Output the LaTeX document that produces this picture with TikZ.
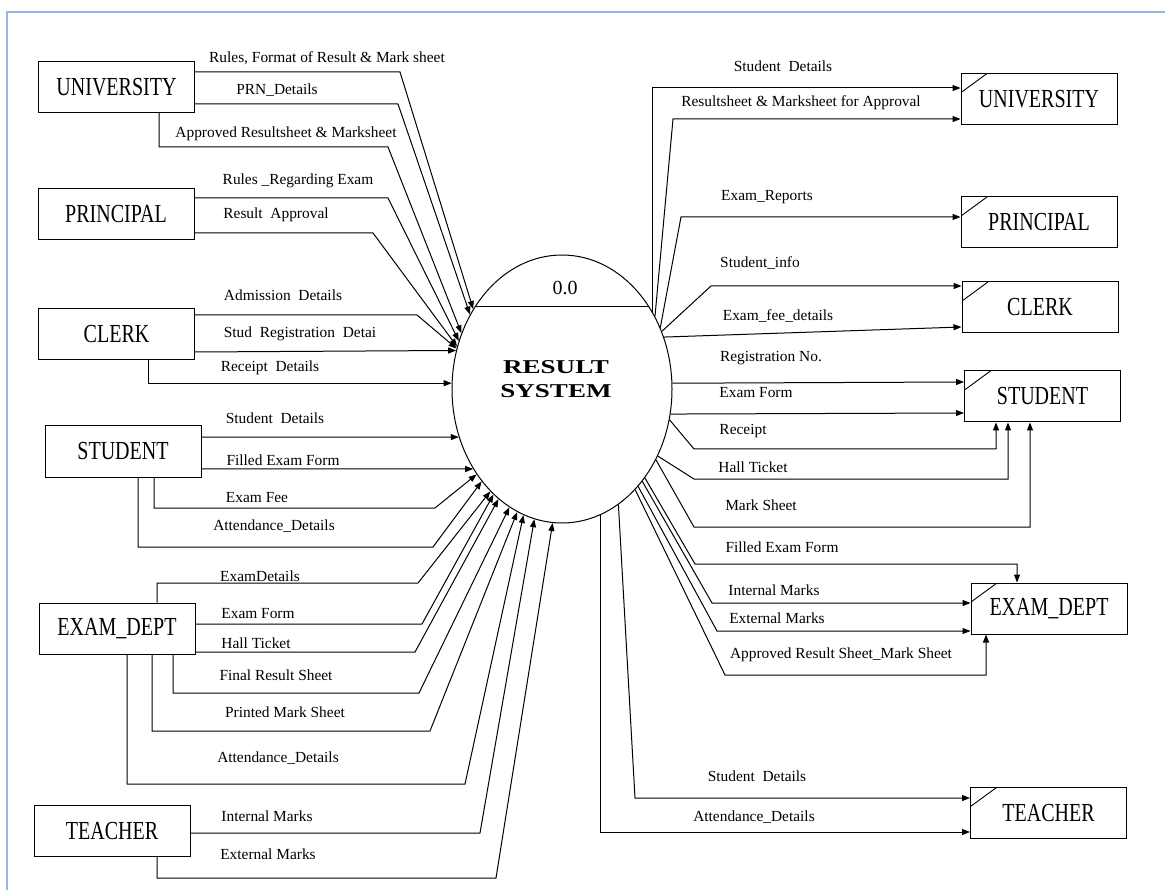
\documentclass[tikz,border=0pt]{standalone}
\usepackage{fontspec}
\setmainfont{Liberation Serif}
\usetikzlibrary{arrows.meta,shapes.geometric}
\newcommand\myent[1]{\scalebox{0.77}[1]{\fontsize{26}{26}\selectfont #1}}
\newcommand\mytitle[1]{\scalebox{1.38}[1]{\bfseries\fontsize{19.6}{20}\selectfont #1}}
\definecolor{frameblue}{RGB}{150,180,230}
\begin{document}
\begin{tikzpicture}[x=1pt,y=-1pt,
  ent/.style={draw, line width=1pt, minimum width=156pt, minimum height=51pt, inner sep=0pt},
  entdup/.style={ent, path picture={\draw[line width=0.9pt] ([yshift=-19pt]path picture bounding box.north west) -- ([xshift=26pt]path picture bounding box.north west);}},
  flow/.style={draw, line width=1pt, -{Triangle[length=8pt,width=6pt]}},
  plain/.style={draw, line width=1pt},
  lbl/.style={font=\fontsize{15.4}{16}\selectfont, inner sep=0pt, text height=10pt, text depth=0pt},
]
\useasboundingbox (0,0) rectangle (1165,890);
\fill[white] (0,0) rectangle (1165,890);
\draw[frameblue, line width=2pt] (7,890) -- (7,12) -- (1165,12);

% central process
\node[draw, ellipse, line width=1pt, minimum width=220pt, minimum height=268pt, inner sep=0pt] (sys) at (562,389) {};
\draw[plain] ([shift={(-87,-82)}]sys.center) -- ([shift={(87,-82)}]sys.center);
\node[inner sep=0pt, font=\fontsize{20}{20}\selectfont] (num) at (565,288) {0.0};
\node[inner sep=0pt, align=center, font=\fontsize{19.6}{24}\selectfont] (title) at (556,379) {\mytitle{RESULT}\\\mytitle{SYSTEM}};

% left entities
\node[ent] (uniL) at (116.5,87) {\myent{UNIVERSITY}};
\node[ent] (prinL) at (116,214.5) {\myent{PRINCIPAL}};
\node[ent] (clerkL) at (116.5,334) {\myent{CLERK}};
\node[ent] (studL) at (123,451.5) {\myent{STUDENT}};
\node[ent] (examL) at (117,628.5) {\myent{EXAM\_DEPT}};
\node[ent] (teachL) at (112,831) {\myent{TEACHER}};

% right entities
\node[entdup] (uniR) at (1039,99) {\myent{UNIVERSITY}};
\node[entdup] (prinR) at (1039,222.5) {\myent{PRINCIPAL}};
\node[entdup] (clerkR) at (1040,307.5) {\myent{CLERK}};
\node[entdup] (studR) at (1042.5,396.5) {\myent{STUDENT}};
\node[entdup] (examR) at (1049,608.5) {\myent{EXAM\_DEPT}};
\node[entdup] (teachR) at (1048.5,813) {\myent{TEACHER}};

% left flows
\draw[flow] (uniL.east |- 0,72) -- (400,72) -- (sys.138.6);
\draw[flow] (uniL.east |- 0,104) -- (398,104) -- (sys.141.8);
\draw[flow] (uniL.south -| 159,0) |- (388,147) -- (sys.151.5);
\draw[flow] (prinL.east |- 0,198) -- (388,198) -- (sys.155.6);
\draw[flow] (prinL.east |- 0,233) -- (373,233) -- (sys.158.3);
\draw[flow] (clerkL.east |- 0,315) -- (417,315) -- (sys.159.8);
\draw[flow] (clerkL.east |- 0,352) -- (sys.160.7);
\draw[flow] (clerkL.south -| 148,0) |- (sys.177.4);
\draw[flow] (studL.east |- 0,437) -- (sys.205.05);
\draw[flow] (studL.east |- 0,469) -- (sys.222.4);
\draw[flow] (studL.south -| 154,0) |- (435,508) -- (sys.225.3);
\draw[flow] (studL.south -| 138,0) |- (433,547) -- (sys.229.9);
\draw[flow] (examL.north -| 157,0) |- (418,583) -- (sys.235.6);
\draw[flow] (examL.east |- 0,624) -- (422,624) -- (sys.237.9);
\draw[flow] (examL.east |- 0,652) -- (415,652) -- (sys.240);
\draw[flow] (examL.south -| 173,0) |- (419,693) -- (sys.246.2);
\draw[flow] (examL.south -| 152,0) |- (430,731) -- (sys.250.2);
\draw[flow] (examL.south -| 127,0) |- (465,784) -- (sys.253.7);
\draw[flow] (teachL.east |- 0,833) -- (480,833) -- (sys.258.9);
\draw[flow] (teachL.south -| 157,0) |- (496,878) -- (sys.266.4);

% right flows
\draw[flow] (sys.40) |- (uniR.west |- 0,88);
\draw[flow] (sys.38) -- (673,119) -- (uniR.west |- 0,119);
\draw[flow] (sys.32.5) -- (681,217) -- (prinR.west |- 0,217);
\draw[flow] (sys.30.3) -- (711,286) -- (clerkR.west |- 0,286);
\draw[flow] (sys.27.7) -- (clerkR.west |- 0,327);
\draw[flow] (sys.3.65) -- (studR.west |- 0,382);
\draw[flow] (sys.347.5) -- (studR.west |- 0,413);
\draw[flow] (sys.344.9) -- (694,449) -| (studR.south -| 996,0);
\draw[flow] (sys.325.4) -- (694,479) -| (studR.south -| 1008,0);
\draw[flow] (sys.323.3) -- (694,527) -| (studR.south -| 1030,0);
\draw[flow] (sys.313.3) -- (695,564) -| (examR.north -| 1017,0);
\draw[flow] (sys.311) -- (712,603) -- (examR.west |- 0,603);
\draw[flow] (sys.308.7) -- (717,631) -- (examR.west |- 0,631);
\draw[flow] (sys.306.2) -- (725,675) -| (examR.south -| 986,0);
\draw[flow] (sys.296.9) -- (635,798) -- (teachR.west |- 0,798);
\draw[flow] (sys.287.3) |- (teachR.west |- 0,832);

% left labels
\node[lbl] (l1) at (327,58) {Rules, Format of Result \& Mark sheet};
\node[lbl] (l2) at (277,90) {PRN\_Details};
\node[lbl] (l3) at (286,133) {Approved Resultsheet \& Marksheet};
\node[lbl] (l4) at (298,180) {Rules \_Regarding Exam};
\node[lbl] (l5) at (276,214) {Result~ Approval};
\node[lbl] (l6) at (283,296) {Admission~ Details};
\node[lbl] (l7) at (300,333) {Stud~ Registration~ Detai};
\node[lbl] (l8) at (270,367) {Receipt~ Details};
\node[lbl] (l9) at (275,419) {Student~ Details};
\node[lbl] (l10) at (283,460) {Filled Exam Form};
\node[lbl] (l11) at (257,497) {Exam Fee};
\node[lbl] (l12) at (274,525) {Attendance\_Details};
\node[lbl] (l13) at (260,576) {ExamDetails};
\node[lbl] (l14) at (258,613) {Exam Form};
\node[lbl] (l15) at (256,643) {Hall Ticket};
\node[lbl] (l16) at (276,675) {Final Result Sheet};
\node[lbl] (l17) at (285,712) {Printed Mark Sheet};
\node[lbl] (l18) at (278,757) {Attendance\_Details};
\node[lbl] (l19) at (267,816) {Internal Marks};
\node[lbl] (l20) at (268,854) {External Marks};

% right labels
\node[lbl] (r1) at (783,67) {Student~ Details};
\node[lbl] (r2) at (801,102) {Resultsheet \& Marksheet for Approval};
\node[lbl] (r3) at (767,196) {Exam\_Reports};
\node[lbl] (r4) at (760,263) {Student\_info};
\node[lbl] (r5) at (778,316) {Exam\_fee\_details};
\node[lbl] (r6) at (771,357) {Registration No.};
\node[lbl] (r7) at (756,393) {Exam Form};
\node[lbl] (r8) at (743,430) {Receipt};
\node[lbl] (r9) at (753,467) {Hall Ticket};
\node[lbl] (r10) at (761,505) {Mark Sheet};
\node[lbl] (r11) at (782,547) {Filled Exam Form};
\node[lbl] (r12) at (774,590) {Internal Marks};
\node[lbl] (r13) at (777,618) {External Marks};
\node[lbl] (r14) at (841,653) {Approved Result Sheet\_Mark Sheet};
\node[lbl] (r15) at (757,776) {Student~ Details};
\node[lbl] (r16) at (754,816) {Attendance\_Details};
\end{tikzpicture}
\end{document}
